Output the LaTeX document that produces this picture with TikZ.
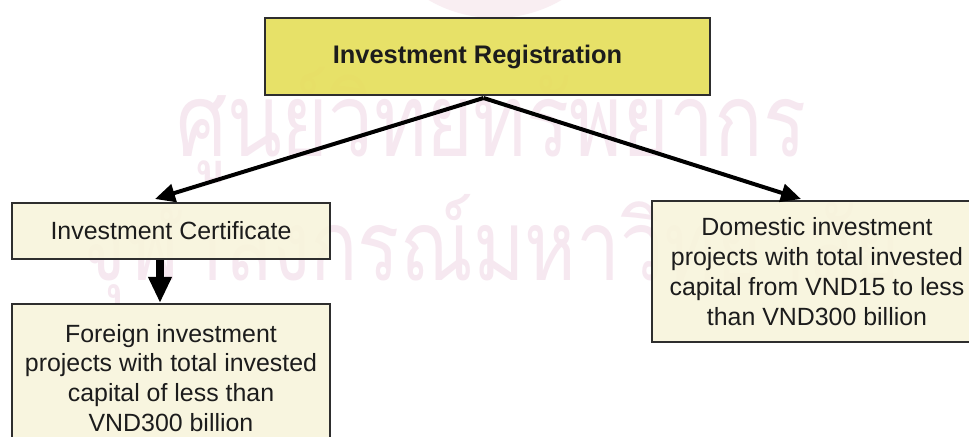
\documentclass[tikz,border=0pt]{standalone}
\usepackage{fontspec}
\setmainfont{Liberation Sans}
\newfontfamily\thaifont[Script=Thai]{Loma}
\usetikzlibrary{arrows.meta,calc}

\definecolor{regfill}{HTML}{E6DF5C}
\definecolor{boxfill}{HTML}{F8F5DC}
\definecolor{boxline}{HTML}{2E2E2E}
\definecolor{textcol}{HTML}{1C1C1C}
\definecolor{markpink}{HTML}{F6E8F0}
\definecolor{sealpink}{HTML}{F9EEF2}

\tikzset{
  regbox/.style={draw=boxline, line width=2bp, fill=regfill, fill opacity=0.92,
    text opacity=1, text=textcol, align=center, inner sep=0pt,
    font=\fontsize{25.5}{30}\selectfont\bfseries},
  infobox/.style={draw=boxline, line width=2bp, fill=boxfill, fill opacity=0.9,
    text opacity=1, text=textcol, align=center, inner sep=0pt,
    font=\fontsize{25}{30}\selectfont},
  flow/.style={line width=4bp, -{Triangle[length=20bp,width=18bp]}},
  bigflow/.style={line width=8bp, -{Triangle[length=26bp,width=22bp]}},
  watermark/.style={text=markpink, inner sep=0pt, anchor=base west}
}

\begin{document}
\begin{tikzpicture}[x=1bp,y=-1bp]
  \useasboundingbox (0,0) rectangle (969,437);
  \clip (0,0) rectangle (969,437);
  \fill[white] (0,0) rectangle (969,437);

  % faint seal behind the title box
  \fill[sealpink] (495,-110) ellipse [x radius=130, y radius=128];

  % background watermark lines
  \node[watermark] (wmone) at (176,157)
    {\scalebox{1}[1.27]{\resizebox{630bp}{!}{\thaifont ศูนย์วิทยทรัพยากร}}};
  \node[watermark] (wmtwo) at (80,281)
    {\scalebox{1}[1.25]{\resizebox{820bp}{!}{\thaifont จุฬาลงกรณ์มหาวิทยาลัย}}};

  % boxes
  \node[regbox, minimum width=445bp, minimum height=77bp] (reg) at (487.5,56.5)
    {Investment Registration\hspace*{20bp}};
  \node[infobox, minimum width=318bp, minimum height=56bp] (cert) at (171,231)
    {Investment Certificate};
  \node[infobox, minimum width=318bp, inner ysep=20bp, anchor=north] (foreign) at (171,303)
    {Foreign investment\\projects with total invested\\capital of less than\\VND300 billion};
  \node[infobox, minimum width=330bp, minimum height=141bp] (dom) at (817,271.5)
    {Domestic investment\\projects with total invested\\capital from VND15 to less\\than VND300 billion};

  % connectors
  \draw[flow] ($(reg.south)+(-4,2)$) -- ($(cert.north)+(-16,-3)$);
  \draw[flow] ($(reg.south)+(-4,2)$) -- ($(dom.north)+(-16,-1)$);
  \draw[bigflow] ($(cert.south)+(-11,0)$) -- ($(foreign.north)+(-11,0)$);
\end{tikzpicture}
\end{document}
